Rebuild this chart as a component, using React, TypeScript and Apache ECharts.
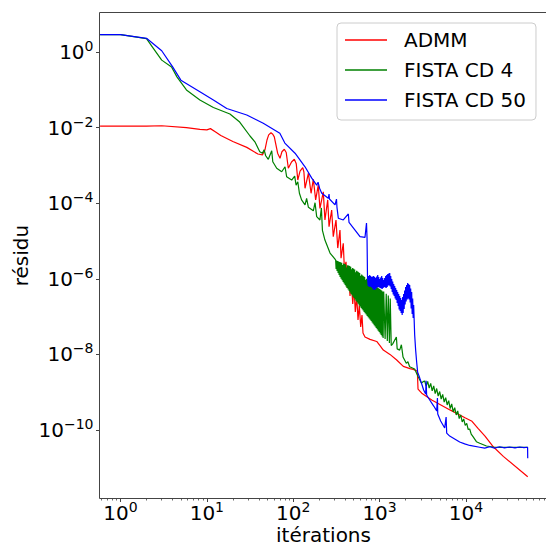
import React, { useEffect, useRef } from 'react';
import * as echarts from 'echarts';

const FONT = 'DejaVu Sans';

const seriesNames = ['ADMM', 'FISTA CD 4', 'FISTA CD 50'];
const seriesColors = ['#ff0000', '#008000', '#0000ff'];

// [iteration, residual]
const admm: [number, number][] = [
  [0.58, 1.1e-2], [1, 1.1e-2], [2, 1.1e-2], [3, 1.12e-2], [5.8, 1.0e-2], [8.3, 9.0e-3],
  [10, 8.7e-3], [11, 9.4e-3], [12.5, 7.8e-3], [14.5, 6.2e-3], [20, 4.3e-3], [29, 3.0e-3],
  [39, 2.0e-3], [44, 1.9e-3], [47, 2.55e-3], [49.7, 4.7e-3], [52, 6.4e-3], [55.3, 7.3e-3],
  [58, 6.7e-3], [60.4, 5.7e-3], [66, 2.1e-3], [70.3, 1.54e-3], [74, 2.3e-3], [78.9, 2.67e-3],
  [83, 2.2e-3], [87.8, 8.4e-4], [95.6, 1.23e-3], [103, 1.45e-3], [108.5, 1.1e-3], [113, 4.1e-4],
  [120, 7.1e-4], [129, 8.7e-4], [133, 6.7e-4], [137, 2.48e-4], [150, 6.2e-4], [161, 1.83e-4],
  [171, 4.3e-4], [182, 1.22e-4], [195, 3.0e-4], [204, 7.3e-5], [223, 2.0e-4], [233, 3.6e-5],
  [251, 1.22e-4], [260, 2.4e-5], [279, 6.6e-5], [291, 1.3e-5], [313, 3.6e-5], [328, 6.5e-6],
  [348, 1.95e-5], [358, 3.5e-6], [380, 8.7e-6], [391, 1.9e-6], [409, 2.8e-6], [423, 5.7e-7],
  [439, 1.5e-6], [455, 3.5e-7], [471, 9.3e-7], [489, 2.15e-7], [506, 5.7e-7], [524, 1.32e-7],
  [544, 3.5e-7], [563, 8.1e-8], [583, 2.0e-7], [605, 5.3e-8], [626, 1.1e-7], [643, 3.7e-8],
  [678, 2.9e-8], [775, 2.5e-8], [927, 2.2e-8], [1012, 1.7e-8], [1105, 1.3e-8], [1320, 1.0e-8],
  [1580, 7.1e-9], [1884, 4.8e-9], [2250, 4.2e-9], [2460, 4.0e-9], [2740, 3.6e-9], [2790, 1.2e-9],
  [3080, 9.4e-10], [4020, 6.2e-10], [6540, 3.4e-10], [9760, 2.1e-10], [11770, 1.7e-10],
  [13810, 1.1e-10], [16640, 6.9e-11], [20770, 3.6e-11], [27110, 2.0e-11], [52000, 5.8e-12],
];

const fistaCd4: [number, number][] = [
  [0.58, 2.9], [1, 2.9], [2, 2.25], [2.4, 1.25], [3, 0.61], [3.9, 0.40], [4.5, 0.22],
  [5.8, 0.099], [8.3, 0.054], [11.9, 0.034], [18.5, 0.023], [24, 0.014], [31.6, 0.006],
  [36, 0.0042], [41, 0.0023], [44, 0.0021], [46, 0.0026], [48, 0.0018], [51.5, 0.00145],
  [56.4, 0.00245], [58, 0.00125], [64.4, 8.4e-4], [73.6, 6.8e-4], [80.4, 9.2e-4], [84, 5.0e-4],
  [96, 4.1e-4], [104, 5.2e-4], [108, 3.0e-4], [113, 3.7e-4], [118, 1.83e-4], [125, 1.22e-4],
  [137, 9.0e-5], [143, 1.35e-4], [150, 7.8e-5], [171, 6.3e-5], [179, 1.03e-4], [187, 4.4e-5],
  [204, 3.6e-5], [212, 7.5e-5], [218, 1.9e-5], [233, 1.06e-5], [267, 4.8e-6], [305, 3.3e-6],
  [310, 3.14e-6], [314, 1.82e-6], [318, 3.05e-6], [322, 1.61e-6], [327, 2.96e-6], [331, 1.42e-6],
  [336, 2.87e-6], [340, 1.26e-6], [345, 2.78e-6], [349, 1.12e-6], [354, 2.72e-6], [359, 1.01e-6],
  [364, 2.65e-6], [369, 9.2e-7], [374, 2.3e-6], [379, 8.3e-7], [384, 2.52e-6], [389, 7.55e-7],
  [394, 2.46e-6], [400, 6.85e-7], [405, 2.4e-6], [410, 6.26e-7], [416, 2.0e-6], [421, 5.71e-7],
  [427, 2.29e-6], [433, 5.21e-7], [439, 2.24e-6], [445, 4.76e-7], [451, 2.18e-6], [457, 4.34e-7],
  [463, 2.09e-6], [469, 3.99e-7], [475, 1.8e-6], [481, 3.66e-7], [488, 1.92e-6], [494, 3.36e-7],
  [501, 1.84e-6], [508, 3.09e-7], [515, 1.76e-6], [522, 2.83e-7], [529, 1.5e-6], [536, 2.6e-7],
  [543, 1.62e-6], [550, 2.39e-7], [558, 1.55e-6], [565, 2.19e-7], [573, 1.49e-6], [581, 2.01e-7],
  [588, 1.42e-6], [596, 1.85e-7], [604, 1.2e-6], [613, 1.7e-7], [621, 1.29e-6], [629, 1.57e-7],
  [637, 1.23e-6], [646, 1.44e-7], [655, 1.17e-6], [663, 1.32e-7], [672, 1.12e-6], [681, 1.22e-7],
  [691, 9.5e-7], [700, 1.13e-7], [709, 1.01e-6], [719, 1.04e-7], [729, 9.6e-7], [739, 9.6e-8],
  [748, 9.18e-7], [759, 8.91e-8], [769, 8.75e-7], [779, 8.23e-8], [790, 7.2e-7], [800, 7.6e-8],
  [811, 7.93e-7], [822, 6.98e-8], [833, 7.55e-7], [844, 6.45e-8], [855, 7.2e-7], [867, 5.92e-8],
  [879, 6.85e-7], [890, 5.47e-8], [902, 5.6e-7], [915, 5.02e-8], [927, 6.22e-7], [940, 4.61e-8],
  [952, 5.92e-7], [965, 4.24e-8], [978, 5.64e-7], [991, 3.89e-8], [1004, 5.37e-7], [1018, 3.57e-8],
  [1031, 5.12e-7], [1045, 3.26e-8], [1059, 4.87e-7], [1073, 2.98e-8], [1088, 4.64e-7], [1100, 2.7e-8],
  [1117, 4.6e-7], [1160, 2.55e-8], [1195, 4.0e-7], [1230, 2.26e-8], [1262, 3.6e-7], [1300, 2.0e-8],
  [1330, 3.0e-7], [1365, 1.72e-8], [1420, 1.9e-8], [1566, 2.9e-8], [1600, 1.4e-8], [1710, 1.3e-8],
  [1790, 1.8e-8], [1870, 8.5e-9], [2040, 5.8e-9], [2130, 6.4e-9], [2230, 4.7e-9], [2550, 4.1e-9],
  [2790, 2.6e-9], [3050, 1.75e-9], [3200, 1.9e-9], [3332, 1.98e-9], [3467, 1.46e-9],
  [3609, 1.92e-9], [3756, 1.29e-9], [3910, 1.70e-9], [4069, 1.08e-9], [4236, 1.46e-9],
  [4410, 9.2e-10], [4587, 1.25e-9], [4775, 7.9e-10], [4971, 1.04e-9], [5173, 6.6e-10],
  [5385, 8.7e-10], [5606, 5.5e-10], [5833, 7.2e-10], [6072, 4.6e-10], [6318, 6.0e-10],
  [6578, 3.7e-10], [6845, 4.9e-10], [7126, 3.0e-10], [7418, 3.9e-10], [7721, 2.5e-10],
  [8035, 3.2e-10], [8363, 2.0e-10], [8706, 2.5e-10], [9061, 1.63e-10], [9430, 1.96e-10],
  [9815, 1.32e-10], [10217, 1.49e-10], [10632, 1.03e-10], [11066, 1.06e-10], [11518, 7.8e-11],
  [12088, 6.65e-11], [13236, 4.9e-11], [14454, 4.45e-11], [17290, 3.77e-11], [20610, 3.55e-11],
  [25000, 3.45e-11], [52000, 3.45e-11],
];

const fistaCd50: [number, number][] = [
  [0.58, 2.9], [1, 2.9], [2, 2.3], [3, 1.08], [4, 0.41], [5, 0.18], [8.3, 0.089], [11.9, 0.054],
  [17, 0.032], [29, 0.0216], [45, 0.013], [70, 0.0071], [80, 0.0039], [105, 0.0021], [137, 9.2e-4],
  [164, 4.6e-4], [187, 3.0e-4], [194, 3.6e-4], [202, 2.5e-4], [214, 1.83e-4], [255, 1.35e-4],
  [260, 1.75e-4], [263, 1.29e-4], [305, 9.0e-5], [317, 1.29e-4], [321, 7.9e-5], [333, 4.0e-5],
  [380, 3.6e-5], [435, 5.2e-5], [443, 3.1e-5], [520, 1.95e-5], [594, 1.3e-5], [678, 1.25e-5],
  [706, 3.0e-5], [716, 1.24e-5], [725, 1.12e-6],
  [729, 1.12e-6], [739, 6.45e-7], [748, 1.19e-6], [759, 6.07e-7], [769, 1.26e-6], [779, 6.26e-7],
  [790, 1.19e-6], [800, 6.07e-7], [811, 1.12e-6], [822, 5.71e-7], [833, 1.15e-6], [844, 5.21e-7],
  [855, 1.19e-6], [867, 5.05e-7], [879, 1.12e-6], [890, 5.21e-7], [902, 1.05e-6], [915, 5.54e-7],
  [927, 1.15e-6], [940, 5.89e-7], [952, 1.26e-6], [965, 6.07e-7], [978, 1.12e-6], [991, 5.89e-7],
  [1004, 9.9e-7], [1018, 5.71e-7], [1031, 1.08e-6], [1045, 5.54e-7], [1059, 1.19e-6], [1073, 5.37e-7],
  [1088, 1.05e-6], [1102, 5.71e-7], [1117, 9.3e-7], [1132, 6.07e-7], [1147, 1.05e-6], [1163, 5.89e-7],
  [1178, 1.19e-6], [1194, 5.71e-7], [1210, 1.26e-6], [1227, 6.07e-7], [1243, 1.34e-6], [1260, 6.65e-7],
  [1277, 1.38e-6], [1294, 6.65e-7], [1311, 1.42e-6], [1329, 6.26e-7], [1347, 1.19e-6], [1365, 5.37e-7],
  [1383, 9.9e-7], [1402, 4.48e-7], [1420, 8.5e-7], [1440, 3.84e-7], [1459, 7.3e-7], [1478, 3.51e-7],
  [1498, 6.45e-7], [1518, 3.01e-7], [1537, 5.71e-7], [1558, 2.75e-7], [1579, 5.05e-7], [1600, 2.29e-7],
  [1621, 4.48e-7], [1643, 1.91e-7], [1665, 3.96e-7], [1687, 1.54e-7], [1710, 3.51e-7], [1733, 1.41e-7],
  [1756, 3.1e-7], [1780, 1.25e-7], [1803, 2.75e-7], [1828, 1.1e-7], [1852, 3.3e-7], [1877, 1.25e-7],
  [1901, 3.96e-7], [1927, 1.59e-7], [1953, 4.9e-7], [1979, 2.09e-7], [2005, 6.07e-7], [2032, 2.51e-7],
  [2060, 6.85e-7], [2088, 2.83e-7], [2116, 7.74e-7], [2144, 3.01e-7], [2173, 7.29e-7], [2202, 2.83e-7],
  [2232, 6.85e-7], [2262, 2.36e-7], [2292, 5.54e-7], [2323, 1.64e-7], [2354, 4.48e-7], [2386, 1.17e-7],
  [2418, 3.01e-7], [2450, 9.2e-8], [2483, 2.03e-7],
  [2550, 3.3e-8], [2618, 1.3e-8], [2689, 6.3e-9], [2761, 3.4e-9], [2915, 2.4e-9],
  [3080, 1.65e-9], [3240, 1.14e-9], [3420, 9.0e-10], [3460, 2.0e-9], [3510, 8.4e-10],
  [3810, 6.2e-10], [4240, 4.3e-10], [4590, 3.2e-10], [4680, 7.0e-10], [4720, 2.65e-10],
  [5100, 1.73e-10], [5680, 1.13e-10], [5900, 2.2e-10], [5990, 8.3e-11], [6490, 6.9e-11],
  [7410, 5.8e-11], [8470, 4.8e-11], [9680, 4.3e-11], [11070, 3.9e-11], [14450, 3.5e-11],
  [16500, 3.3e-11], [18900, 3.6e-11], [21500, 3.3e-11], [24600, 3.6e-11], [28000, 3.35e-11],
  [32000, 3.55e-11], [37000, 3.35e-11], [42000, 3.55e-11], [47000, 3.4e-11], [51800, 3.5e-11],
  [52000, 1.8e-11],
];

const xMajorTicks = [1, 10, 100, 1000, 10000];
const xMinorTicks = [
  0.6, 0.7, 0.8, 0.9,
  2, 3, 4, 5, 6, 7, 8, 9,
  20, 30, 40, 50, 60, 70, 80, 90,
  200, 300, 400, 500, 600, 700, 800, 900,
  2000, 3000, 4000, 5000, 6000, 7000, 8000, 9000,
  20000, 30000, 40000, 50000, 60000, 70000, 80000,
];
const yMajorTicks = [1, 1e-2, 1e-4, 1e-6, 1e-8, 1e-10];

const X_MIN = 0.571;
const X_MAX = 88100;
const Y_MIN = 1.54e-12;
const Y_MAX = 11.1;

function powerLabel(v: number): string {
  const e = Math.round(Math.log10(v));
  const s = e < 0 ? '\u2212' + String(-e) : String(e);
  return `{b|10}{s|${s}}`;
}

const richLabel = {
  b: { fontSize: 20, lineHeight: 26, fontFamily: FONT, color: '#000' },
  s: { fontSize: 14, lineHeight: 26, padding: [0, 0, 12, 0], fontFamily: FONT, color: '#000' },
};

const AXIS_COLOR = '#444';

export default function App() {
  const ref = useRef<HTMLDivElement>(null);

  useEffect(() => {
    if (!ref.current) return;
    const chart = echarts.init(ref.current, undefined, { renderer: 'svg' });
    const seriesData = [admm, fistaCd4, fistaCd50];
    const option: any = {
      animation: false,
      backgroundColor: '#fff',
      grid: {
        left: 99.5,
        top: 12.5,
        width: 448,
        height: 486,
        show: true,
        borderColor: AXIS_COLOR,
        borderWidth: 1,
        backgroundColor: 'transparent',
        containLabel: false,
        outerBoundsMode: 'none',
      },
      legend: {
        orient: 'vertical',
        left: 337,
        top: 23,
        padding: [7, 10, 10, 8],
        itemGap: 10,
        itemWidth: 42,
        itemHeight: 1.5,
        icon: 'rect',
        backgroundColor: 'rgba(255,255,255,0.8)',
        borderColor: '#cccccc',
        borderWidth: 1,
        borderRadius: 4,
        selectedMode: false,
        data: seriesNames,
        textStyle: {
          fontSize: 20,
          fontFamily: FONT,
          color: '#000',
          lineHeight: 20,
          padding: [0, 0, 0, 12],
        },
      },
      xAxis: [
        {
          type: 'log',
          logBase: 10,
          min: X_MIN,
          max: X_MAX,
          position: 'bottom',
          axisLine: { show: false },
          splitLine: { show: false },
          minorTick: { show: false },
          axisTick: {
            show: true,
            customValues: xMajorTicks,
            length: 3.5,
            lineStyle: { color: AXIS_COLOR, width: 1 },
          },
          axisLabel: {
            customValues: xMajorTicks,
            formatter: powerLabel,
            margin: 1,
            rich: richLabel,
          },
          name: 'itérations',
          nameLocation: 'middle',
          nameGap: 26,
          nameMoveOverlap: false,
          nameTextStyle: { fontSize: 20, fontFamily: FONT, color: '#000', lineHeight: 20 },
        },
        {
          type: 'log',
          logBase: 10,
          min: X_MIN,
          max: X_MAX,
          position: 'bottom',
          axisLine: { show: false },
          splitLine: { show: false },
          axisLabel: { show: false },
          axisTick: {
            show: true,
            customValues: xMinorTicks,
            length: 2,
            lineStyle: { color: AXIS_COLOR, width: 0.8 },
          },
        },
      ],
      yAxis: {
        type: 'log',
        logBase: 10,
        min: Y_MIN,
        max: Y_MAX,
        axisLine: { show: false },
        splitLine: { show: false },
        minorTick: { show: false },
        axisTick: {
          show: true,
          customValues: yMajorTicks,
          length: 3.5,
          lineStyle: { color: AXIS_COLOR, width: 1 },
        },
        axisLabel: {
          customValues: yMajorTicks,
          formatter: powerLabel,
          margin: 6,
          rich: richLabel,
        },
        name: 'résidu',
        nameLocation: 'middle',
        nameGap: 68.5,
        nameRotate: 90,
        nameMoveOverlap: false,
        nameTextStyle: { fontSize: 20, fontFamily: FONT, color: '#000', lineHeight: 20 },
      },
      series: seriesNames.map((name, i) => ({
        type: 'line',
        name,
        data: seriesData[i],
        xAxisIndex: 0,
        yAxisIndex: 0,
        symbol: 'none',
        showSymbol: false,
        silent: true,
        clip: true,
        color: seriesColors[i],
        lineStyle: { width: 1.2, color: seriesColors[i] },
        itemStyle: { color: seriesColors[i] },
        z: 2 + i,
      })),
    };
    chart.setOption(option);
    return () => {
      chart.dispose();
    };
  }, []);

  return (
    <div
      ref={ref}
      style={{ position: 'fixed', left: 0, top: 0, width: 546, height: 547, background: '#fff' }}
    />
  );
}
